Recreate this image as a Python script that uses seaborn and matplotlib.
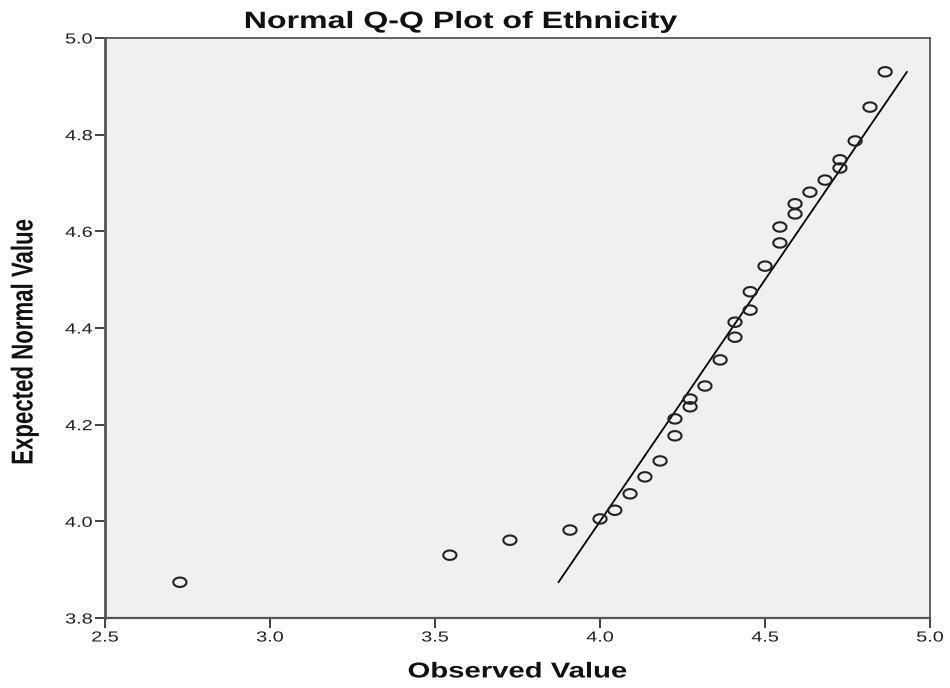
import numpy as np
import pandas as pd
import matplotlib
matplotlib.use("Agg")
import matplotlib.pyplot as plt
import seaborn as sns
from matplotlib.path import Path
from matplotlib import patheffects
from matplotlib.transforms import Affine2D

observed = [2.727, 3.545, 3.727, 3.909, 4.000, 4.045, 4.091, 4.136, 4.182,
            4.227, 4.227, 4.273, 4.273, 4.318, 4.364, 4.409, 4.409, 4.455,
            4.455, 4.500, 4.545, 4.545, 4.591, 4.591, 4.636, 4.682, 4.727,
            4.727, 4.773, 4.818, 4.864]
expected = [3.874, 3.930, 3.961, 3.982, 4.005, 4.023, 4.057, 4.092, 4.125,
            4.177, 4.212, 4.237, 4.253, 4.280, 4.334, 4.381, 4.412, 4.437,
            4.475, 4.528, 4.576, 4.609, 4.636, 4.657, 4.681, 4.706, 4.731,
            4.748, 4.787, 4.857, 4.930]
line_x = [3.874, 4.930]
line_y = [3.874, 4.930]
x_ticks = [2.5, 3.0, 3.5, 4.0, 4.5, 5.0]
y_ticks = [3.8, 4.0, 4.2, 4.4, 4.6, 4.8, 5.0]

df = pd.DataFrame({"Observed Value": observed, "Expected Normal Value": expected})

sns.set_theme(style="white")
plt.rcParams["font.family"] = ["Liberation Sans", "DejaVu Sans"]

SX = 1.36  # horizontal stretch of the reference rendering


class Stretch(patheffects.AbstractPathEffect):
    def __init__(self, sx=SX, anchor="center"):
        super().__init__()
        self.sx = sx
        self.anchor = anchor

    def draw_path(self, renderer, gc, tpath, affine, rgbFace=None):
        ext = tpath.get_extents(affine)
        if self.anchor == "right":
            cx = ext.x1
        else:
            cx = 0.5 * (ext.x0 + ext.x1)
        new = affine + Affine2D().translate(-cx, 0).scale(self.sx, 1.0).translate(cx, 0)
        renderer.draw_path(gc, tpath, new, rgbFace)


fig = plt.figure(figsize=(9.5, 6.88), dpi=100)
ax = fig.add_axes([0.1105, 0.1017, 0.979 - 0.1105, 0.9448 - 0.1017])
ax.set_facecolor("#F0F0F0")

t = np.linspace(0, 2 * np.pi, 60)
ell = Path(np.column_stack([1.4 * np.cos(t), np.sin(t)]))

ax.plot(line_x, line_y, color="black", lw=1.3, zorder=2)
sns.scatterplot(data=df, x="Observed Value", y="Expected Normal Value", ax=ax,
                marker=ell, s=90, facecolor="none", edgecolor="#222222",
                linewidth=1.5, zorder=3)

ax.set_xlim(2.5, 5.0)
ax.set_ylim(3.8, 5.0)
ax.set_xticks(x_ticks)
ax.set_yticks(y_ticks)
ax.set_xticklabels([f"{v:.1f}" for v in x_ticks])
ax.set_yticklabels([f"{v:.1f}" for v in y_ticks])
ax.tick_params(axis="both", which="major", direction="out", length=7, width=1.3,
               color="#333333", labelsize=10.5, labelcolor="#222222",
               bottom=True, left=True, pad=2)
for sp in ax.spines.values():
    sp.set_color("#555555")
    sp.set_linewidth(1.3)
ax.spines["left"].set_linewidth(2.0)
ax.spines["bottom"].set_linewidth(1.6)

for lab in ax.get_xticklabels():
    lab.set_path_effects([Stretch(anchor="center")])
for lab in ax.get_yticklabels():
    lab.set_path_effects([Stretch(anchor="right")])

title = ax.set_title("Normal Q-Q Plot of Ethnicity", fontsize=17, fontweight="bold",
                     x=0.4315, y=1.0172, pad=0, color="#111111")
title.set_path_effects([Stretch()])

ax.set_xlabel("Observed Value", fontsize=15.5, fontweight="bold", color="#111111",
              va="center", ha="center")
ax.xaxis.set_label_coords(0.5, -0.093)
ax.xaxis.label.set_path_effects([Stretch()])

ax.set_ylabel("Expected Normal Value", fontsize=16, fontweight="bold", color="#111111",
              va="center", ha="center")
ax.yaxis.set_label_coords(-0.097, 0.476)
ax.yaxis.label.set_path_effects([Stretch()])

fig.savefig("out.png", dpi=100, facecolor="white")
